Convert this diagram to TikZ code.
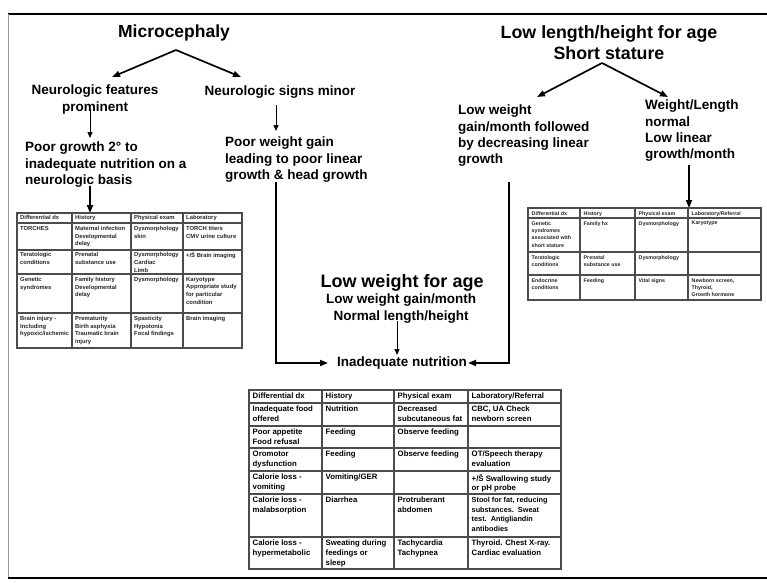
\documentclass[tikz,border=0pt]{standalone}
\usepackage{fontspec}
\setmainfont{Liberation Sans}
\usetikzlibrary{arrows.meta}
\begin{document}
\begin{tikzpicture}[x=1pt,y=-1pt,
  ttl/.style={font=\fontsize{17.5}{21}\selectfont\bfseries, inner sep=0, align=center},
  big/.style={font=\fontsize{18}{21}\selectfont\bfseries, inner sep=0},
  hd/.style={font=\fontsize{13.5}{16.3}\selectfont\bfseries, inner sep=0},
  tcL/.style={font=\fontsize{5.85}{7.6}\selectfont\bfseries, text=black!85, inner sep=0, anchor=north west, align=left},
  tcR/.style={font=\fontsize{5.3}{7.4}\selectfont\bfseries, text=black!85, inner sep=0, anchor=north west, align=left},
  tcB/.style={font=\fontsize{7.8}{9.7}\selectfont\bfseries, inner sep=0, anchor=north west, align=left},
  tbl/.style={draw=black!70, line width=1.2pt},
  darr/.style={line width=1.7pt, -{Triangle[length=8pt,width=6pt]}},
  tarr/.style={line width=1pt, -{Triangle[length=6pt,width=5pt]}},
  harr/.style={line width=1.8pt, -{Triangle[length=8pt,width=6pt]}},
]
\useasboundingbox (0,0) rectangle (767,582);
\fill[white] (0,0) rectangle (767,582);
% frame
\draw[line width=1.6pt] (8,14) -- (767,14);
\draw[black!40, line width=1pt] (8,14) -- (8,578);
\draw[line width=2pt] (8,578) -- (767,578);

% ---------- left branch ----------
\node[ttl] (micro) at (174,33) {Microcephaly};
\coordinate (mA) at (176,50);
\coordinate (mL) at (112,77);
\coordinate (mR) at (241,77);
\draw[darr] (mA) -- (mL);
\draw[darr] (mA) -- (mR);

\node[hd, align=center] (nf) at (95,99.5) {Neurologic features\\prominent};
\node[hd] (nsm) at (280,92) {Neurologic signs minor};

\coordinate (a1s) at (90,109);
\coordinate (a1e) at (90,138);
\draw[tarr] (a1s) -- (a1e);

\node[hd, anchor=north west, align=left] (pg) at (25,142) {Poor growth 2° to\\inadequate nutrition on a\\neurologic basis};

\coordinate (a2s) at (90,186);
\coordinate (a2e) at (90,213);
\draw[harr] (a2s) -- (a2e);

\coordinate (a3s) at (276,105);
\coordinate (a3e) at (276,131);
\draw[tarr] (a3s) -- (a3e);

\node[hd, anchor=north west, align=left] (pw) at (225,137) {Poor weight gain\\leading to poor linear\\growth \& head growth};

% ---------- right branch ----------
\node[ttl, font=\fontsize{17.8}{21}\selectfont\bfseries] (llh) at (609,42.5) {Low length/height for age\\Short stature};
\coordinate (rA) at (602,63);
\coordinate (rL) at (537,97);
\coordinate (rR) at (668,97);
\draw[darr] (rA) -- (rL);
\draw[darr] (rA) -- (rR);

\node[hd, anchor=north west, align=left] (lwf) at (458,105) {Low weight\\gain/month followed\\by decreasing linear\\growth};
\node[hd, anchor=north west, align=left] (wln) at (645,100) {Weight/Length\\normal\\Low linear\\growth/month};

\coordinate (a4s) at (689,165);
\coordinate (a4e) at (689,208);
\draw[harr] (a4s) -- (a4e);

% ---------- centre ----------
\node[big] (lwa) at (402,283) {Low weight for age};
\node[hd, align=center, font=\fontsize{13.5}{17}\selectfont\bfseries] (lwg) at (401,308.5) {Low weight gain/month\\Normal length/height};
\node[hd] (inad) at (402,363) {Inadequate nutrition};

\coordinate (a5s) at (397,321);
\coordinate (a5e) at (397,355);
\draw[tarr] (a5s) -- (a5e);

\coordinate (lls) at (276,182);
\coordinate (lle) at (328,363);
\draw[harr] (lls) |- (lle);
\coordinate (rls) at (509,182);
\coordinate (rle) at (468,363);
\draw[harr] (rls) |- (rle);

% ---------- left table ----------
\draw[tbl] (17,213) rectangle (242,348);
\foreach \x in {72,131,183} \draw[tbl] (\x,213) -- (\x,348);
\foreach \y in {223,250,274,313} \draw[tbl] (17,\y) -- (242,\y);

\node[tcL] (L01) at (20,215.5) {Differential dx};
\node[tcL] (L02) at (75,215.5) {History};
\node[tcL] (L03) at (134,215.5) {Physical exam};
\node[tcL] (L04) at (186,215.5) {Laboratory};
\node[tcL] (L11) at (20,226) {TORCHES};
\node[tcL] (L12) at (75,226) {Maternal infection\\Developmental\\delay};
\node[tcL] (L13) at (134,226) {Dysmorphology\\skin};
\node[tcL] (L14) at (186,226) {TORCH titers\\CMV urine culture};
\node[tcL] (L21) at (20,252.5) {Teratologic\\conditions};
\node[tcL] (L22) at (75,252.5) {Prenatal\\substance use};
\node[tcL] (L23) at (134,252.5) {Dysmorphology\\Cardiac\\Limb};
\node[tcL] (L24) at (186,252.5) {+/Š Brain imaging};
\node[tcL] (L31) at (20,277) {Genetic\\syndromes};
\node[tcL] (L32) at (75,277) {Family history\\Developmental\\delay};
\node[tcL] (L33) at (134,277) {Dysmorphology};
\node[tcL] (L34) at (186,277) {Karyotype\\Appropriate study\\for particular\\condition};
\node[tcL] (L41) at (20,316) {Brain injury -\\Including\\hypoxic/ischemic};
\node[tcL] (L42) at (75,316) {Prematurity\\Birth asphyxia\\Traumatic brain\\injury};
\node[tcL] (L43) at (134,316) {Spasticity\\Hypotonia\\Focal findings};
\node[tcL] (L44) at (186,316) {Brain imaging};

% ---------- right table ----------
\draw[tbl] (528,208) rectangle (761,300);
\foreach \x in {580,635,688} \draw[tbl] (\x,208) -- (\x,300);
\foreach \y in {218,252,275} \draw[tbl] (528,\y) -- (761,\y);

\node[tcR] (R01) at (531.5,211) {Differential dx};
\node[tcR] (R02) at (583.5,211) {History};
\node[tcR] (R03) at (638.5,211) {Physical exam};
\node[tcR] (R04) at (691.5,211) {Laboratory/Referral};
\node[tcR] (R11) at (531.5,221) {Genetic\\syndromes\\associated with\\short stature};
\node[tcR] (R12) at (583.5,221) {Family hx};
\node[tcR] (R13) at (638.5,221) {Dysmorphology};
\node[tcR] (R14) at (691.5,221) {Karyotype};
\node[tcR] (R21) at (531.5,255) {Teratologic\\conditions};
\node[tcR] (R22) at (583.5,255) {Prenatal\\substance use};
\node[tcR] (R23) at (638.5,255) {Dysmorphology};
\node[tcR] (R31) at (531.5,278) {Endocrine\\conditions};
\node[tcR] (R32) at (583.5,278) {Feeding};
\node[tcR] (R33) at (638.5,278) {Vital signs};
\node[tcR] (R34) at (691.5,278) {Newborn screen,\\Thyroid,\\Growth hormone};

% ---------- bottom table ----------
\draw[tbl] (249,390) rectangle (561,569);
\foreach \x in {322,394,468} \draw[tbl] (\x,390) -- (\x,569);
\foreach \y in {403,426,448,471,494,537} \draw[tbl] (249,\y) -- (561,\y);

\node[tcB] (B01) at (252.5,393) {Differential dx};
\node[tcB] (B02) at (325.5,393) {History};
\node[tcB] (B03) at (397.5,393) {Physical exam};
\node[tcB] (B04) at (471.5,393) {Laboratory/Referral};
\node[tcB] (B11) at (252.5,406) {Inadequate food\\offered};
\node[tcB] (B12) at (325.5,406) {Nutrition};
\node[tcB] (B13) at (397.5,406) {Decreased\\subcutaneous fat};
\node[tcB] (B14) at (471.5,406) {CBC, UA Check\\newborn screen};
\node[tcB] (B21) at (252.5,429) {Poor appetite\\Food refusal};
\node[tcB] (B22) at (325.5,429) {Feeding};
\node[tcB] (B23) at (397.5,429) {Observe feeding};
\node[tcB] (B31) at (252.5,451) {Oromotor\\dysfunction};
\node[tcB] (B32) at (325.5,451) {Feeding};
\node[tcB] (B33) at (397.5,451) {Observe feeding};
\node[tcB] (B34) at (471.5,451) {OT/Speech therapy\\evaluation};
\node[tcB] (B41) at (252.5,474) {Calorie loss -\\vomiting};
\node[tcB] (B42) at (325.5,474) {Vomiting/GER};
\node[tcB] (B44) at (471.5,474) {+/Š Swallowing study\\or pH probe};
\node[tcB] (B51) at (252.5,497) {Calorie loss -\\malabsorption};
\node[tcB] (B52) at (325.5,497) {Diarrhea};
\node[tcB] (B53) at (397.5,497) {Protruberant\\abdomen};
\node[tcB, font=\fontsize{7.3}{9.7}\selectfont\bfseries] (B54) at (471.5,497) {Stool for fat, reducing\\substances.\ \ Sweat\\test.\ \ Antigliandin\\antibodies};
\node[tcB] (B61) at (252.5,540) {Calorie loss -\\hypermetabolic};
\node[tcB] (B62) at (325.5,540) {Sweating during\\feedings or\\sleep};
\node[tcB] (B63) at (397.5,540) {Tachycardia\\Tachypnea};
\node[tcB] (B64) at (471.5,540) {Thyroid. Chest X-ray.\\Cardiac evaluation};
\end{tikzpicture}
\end{document}
